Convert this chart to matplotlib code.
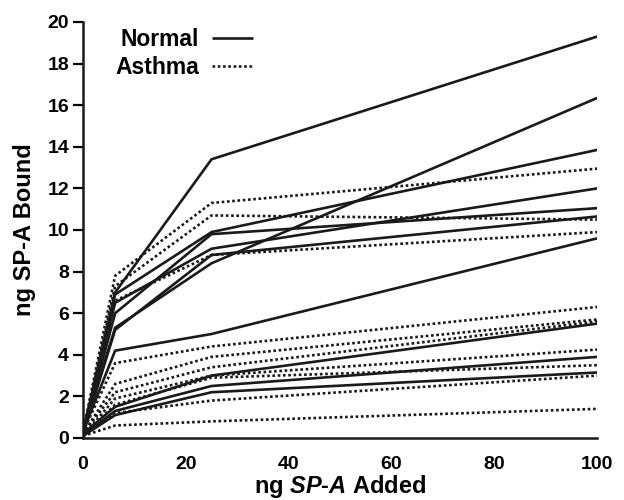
import matplotlib
matplotlib.use('Agg')
import matplotlib.pyplot as plt

plt.rcParams['font.family'] = 'Liberation Sans'
plt.rcParams['font.weight'] = 'bold'
plt.rcParams['axes.labelweight'] = 'bold'
plt.rcParams['mathtext.fontset'] = 'custom'
plt.rcParams['mathtext.it'] = 'Liberation Sans:italic:bold'
plt.rcParams['mathtext.rm'] = 'Liberation Sans:bold'

# ng SP-A added to each well
added = [0, 6.25, 25, 100]

# bound SP-A per subject, normal volunteers
normal = [
    [0.2, 7.0, 13.4, 19.3],
    [0.3, 5.3, 8.4, 16.35],
    [0.2, 6.9, 9.9, 13.85],
    [0.3, 6.5, 9.1, 12.0],
    [0.2, 6.0, 9.8, 11.05],
    [0.2, 5.2, 8.8, 10.65],
    [0.3, 4.2, 5.0, 9.6],
    [0.2, 1.5, 3.0, 5.5],
    [0.1, 1.3, 2.5, 3.9],
    [0.1, 1.1, 2.2, 3.15],
]

# bound SP-A per subject, asthmatics
asthma = [
    [0.3, 7.8, 11.3, 12.95],
    [0.2, 7.3, 10.7, 10.5],
    [0.2, 6.6, 8.8, 9.9],
    [0.3, 3.6, 4.4, 6.3],
    [0.2, 2.6, 3.9, 5.7],
    [0.2, 2.2, 3.4, 5.6],
    [0.1, 1.9, 3.0, 4.25],
    [0.1, 1.6, 2.9, 3.5],
    [0.1, 1.2, 1.8, 3.0],
    [0.1, 0.6, 0.8, 1.4],
]

fig = plt.figure(figsize=(6.24, 5.0), dpi=100)
ax = fig.add_axes([0.133, 0.124, 0.824, 0.832])

lw = 1.9
for i, row in enumerate(normal):
    ax.plot(added, row, color='#1a1a1a', lw=lw, solid_capstyle='butt',
            label='Normal' if i == 0 else None)
for i, row in enumerate(asthma):
    ax.plot(added, row, color='#1a1a1a', lw=lw, linestyle=(0, (1.0, 1.0)),
            dash_capstyle='butt', label='Asthma' if i == 0 else None)

ax.set_xlim(0, 100)
ax.set_ylim(0, 20)
ax.set_xticks([0, 20, 40, 60, 80, 100])
ax.set_yticks(range(0, 21, 2))
ax.spines['top'].set_visible(False)
ax.spines['right'].set_visible(False)
for s in ['left', 'bottom']:
    ax.spines[s].set_linewidth(1.8)
    ax.spines[s].set_color('#1a1a1a')
ax.tick_params(axis='y', direction='out', length=7, width=1.6, labelsize=14, pad=3)
ax.tick_params(axis='x', length=0, labelsize=14, pad=13)

ax.set_xlabel(r'ng $\mathit{SP\text{-}A}$ Added', fontsize=17, labelpad=0)
ax.set_ylabel('ng SP-A Bound', fontsize=17, labelpad=8)

leg = ax.legend(loc='upper left', bbox_to_anchor=(0.022, 1.035), frameon=False,
                markerfirst=False, fontsize=16.5, handlelength=1.75,
                handletextpad=0.6, labelspacing=0.2)

fig.savefig('out.png', dpi=100)
